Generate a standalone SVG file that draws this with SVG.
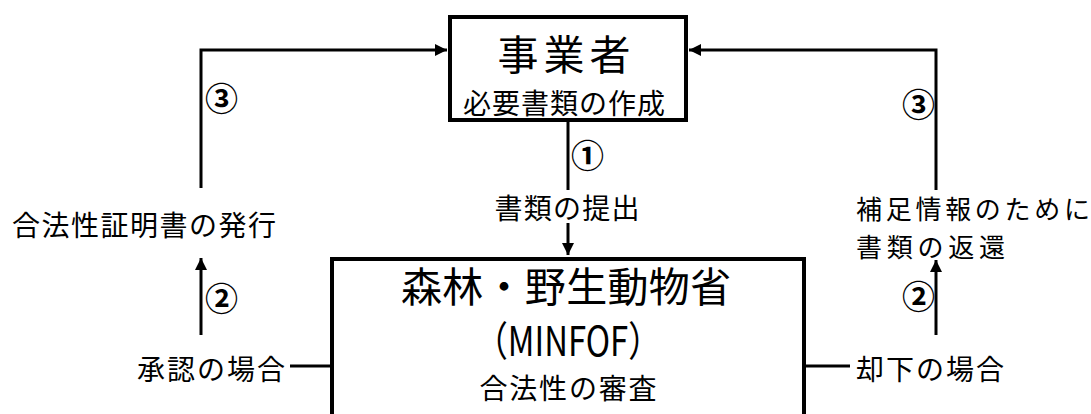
<svg xmlns="http://www.w3.org/2000/svg" width="1091" height="414" viewBox="0 0 1091 414">
<defs>
<style>
.t{font-family:"Noto Sans CJK JP","Noto Sans CJK SC",sans-serif;fill:#000;}
.big{font-size:41px;}
.mid{font-size:28px;}
.sm{font-size:26px;}
.num{font-family:"Noto Sans CJK JP",sans-serif;font-size:33px;font-weight:bold;fill:#000;}
.box{fill:#fff;stroke:#000;stroke-width:4;}
.ln{fill:none;stroke:#000;stroke-width:3;}
</style>
<marker id="ah" viewBox="0 0 12 12" refX="12" refY="6" markerWidth="12" markerHeight="12" markerUnits="userSpaceOnUse" orient="auto">
<path d="M0,0 L12,6 L0,12 Z" fill="#000"/>
</marker>
</defs>
<rect width="1091" height="414" fill="#fff"/>
<g id="connectors">
<path class="ln" d="M568,122 V190"/>
<path class="ln" d="M568,223 V255" marker-end="url(#ah)"/>
<path class="ln" d="M290,366 H331"/>
<path class="ln" d="M201,335 V258" marker-end="url(#ah)"/>
<path class="ln" d="M201,188 V50 H447" marker-end="url(#ah)"/>
<path class="ln" d="M806,366 H850"/>
<path class="ln" d="M936,335 V260" marker-end="url(#ah)"/>
<path class="ln" d="M936,190 V50 H689" marker-end="url(#ah)"/>
</g>
<g id="node-operator">
<rect class="box" x="450" y="17" width="236" height="103"/>
<text class="t big" x="564" y="70" text-anchor="middle" textLength="133" lengthAdjust="spacing">事業者</text>
<text class="t mid" x="564" y="114" text-anchor="middle" textLength="202" lengthAdjust="spacing">必要書類の作成</text>
</g>
<g id="node-minfof">
<rect class="box" x="332" y="259" width="472" height="170"/>
<text class="t big" x="566" y="302" text-anchor="middle" textLength="330" lengthAdjust="spacing">森林・野生動物省</text>
<text class="t big" x="568" y="356" text-anchor="middle" textLength="186" lengthAdjust="spacingAndGlyphs">（MINFOF）</text>
<text class="t mid" x="568" y="399" text-anchor="middle" textLength="177" lengthAdjust="spacing">合法性の審査</text>
</g>
<g id="labels">
<text class="num" x="571" y="168">①</text>
<text class="t mid" x="567" y="219" text-anchor="middle" textLength="145" lengthAdjust="spacing">書類の提出</text>
<text class="num" x="205" y="111">③</text>
<text class="t mid" x="12" y="236" textLength="264" lengthAdjust="spacing">合法性証明書の発行</text>
<text class="num" x="205" y="311">②</text>
<text class="t mid" x="137" y="380" textLength="148" lengthAdjust="spacing">承認の場合</text>
<text class="num" x="902" y="117">③</text>
<text class="t sm" x="856" y="219" textLength="234" lengthAdjust="spacing">補足情報のために</text>
<text class="t sm" x="856" y="257" textLength="149" lengthAdjust="spacing">書類の返還</text>
<text class="num" x="902" y="309">②</text>
<text class="t mid" x="856" y="380" textLength="148" lengthAdjust="spacing">却下の場合</text>
</g>
</svg>
